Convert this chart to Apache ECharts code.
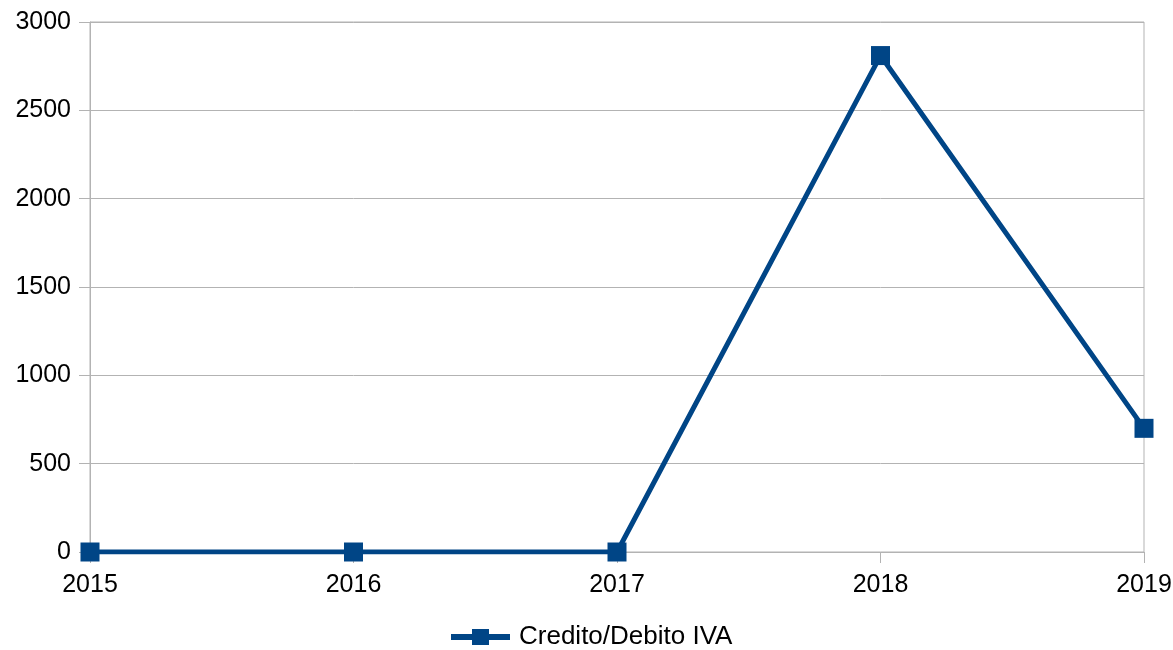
<!DOCTYPE html>
<html>
<head>
<meta charset="utf-8">
<script src="https://cdn.jsdelivr.net/npm/echarts@6/dist/echarts.min.js"></script>
<style>
  html, body { margin: 0; padding: 0; background: #fff; }
  #main { width: 1173px; height: 650px; }
</style>
</head>
<body>
<div id="main"></div>
<script>
const years = ['2015', '2016', '2017', '2018', '2019']
const ivaValues = [0, 0, 0, 2810, 700]
const seriesName = 'Credito/Debito IVA'

const gridColor = '#b3b3b3'
const lineColor = '#004586'
const font = '"Liberation Sans", Arial, sans-serif'

const chart = echarts.init(document.getElementById('main'))
chart.setOption({
    animation: false,
    textStyle: { fontFamily: font, color: '#000' },
    grid: {
        left: 90, right: 29, top: 22, bottom: 98, containLabel: false,
        outerBoundsMode: 'none',
        show: true, borderColor: gridColor, borderWidth: 1
    },
    legend: {
        data: [seriesName],
        left: 446,
        top: 619,
        itemWidth: 59,
        itemHeight: 16,
        itemGap: 10,
        icon: 'path://M0,5H21V0H38V5H59V11H38V16H21V11H0Z',
        textStyle: { fontFamily: font, fontSize: 26, color: '#000', padding: [0, 0, 0, 4] }
    },
    xAxis: {
        type: 'category',
        data: years,
        boundaryGap: false,
        axisLine: { lineStyle: { color: gridColor, width: 1 } },
        axisTick: { show: true, length: 11, alignWithLabel: true, lineStyle: { color: gridColor } },
        splitLine: { show: false },
        axisLabel: { fontFamily: font, fontSize: 25, color: '#000', margin: 21 }
    },
    yAxis: {
        type: 'value',
        min: 0,
        max: 3000,
        interval: 500,
        axisLine: { show: true, lineStyle: { color: gridColor, width: 1 } },
        axisTick: { show: true, length: 11, lineStyle: { color: gridColor } },
        splitLine: { show: true, lineStyle: { color: gridColor, width: 1 } },
        axisLabel: {
            fontFamily: font, fontSize: 25, color: '#000', margin: 19,
            formatter: v => String(v)
        }
    },
    series: [{
        name: seriesName,
        type: 'line',
        data: ivaValues,
        symbol: 'rect',
        symbolSize: 19,
        itemStyle: { color: lineColor },
        lineStyle: { color: lineColor, width: 5 },
        z: 5
    }]
})
</script>
</body>
</html>
